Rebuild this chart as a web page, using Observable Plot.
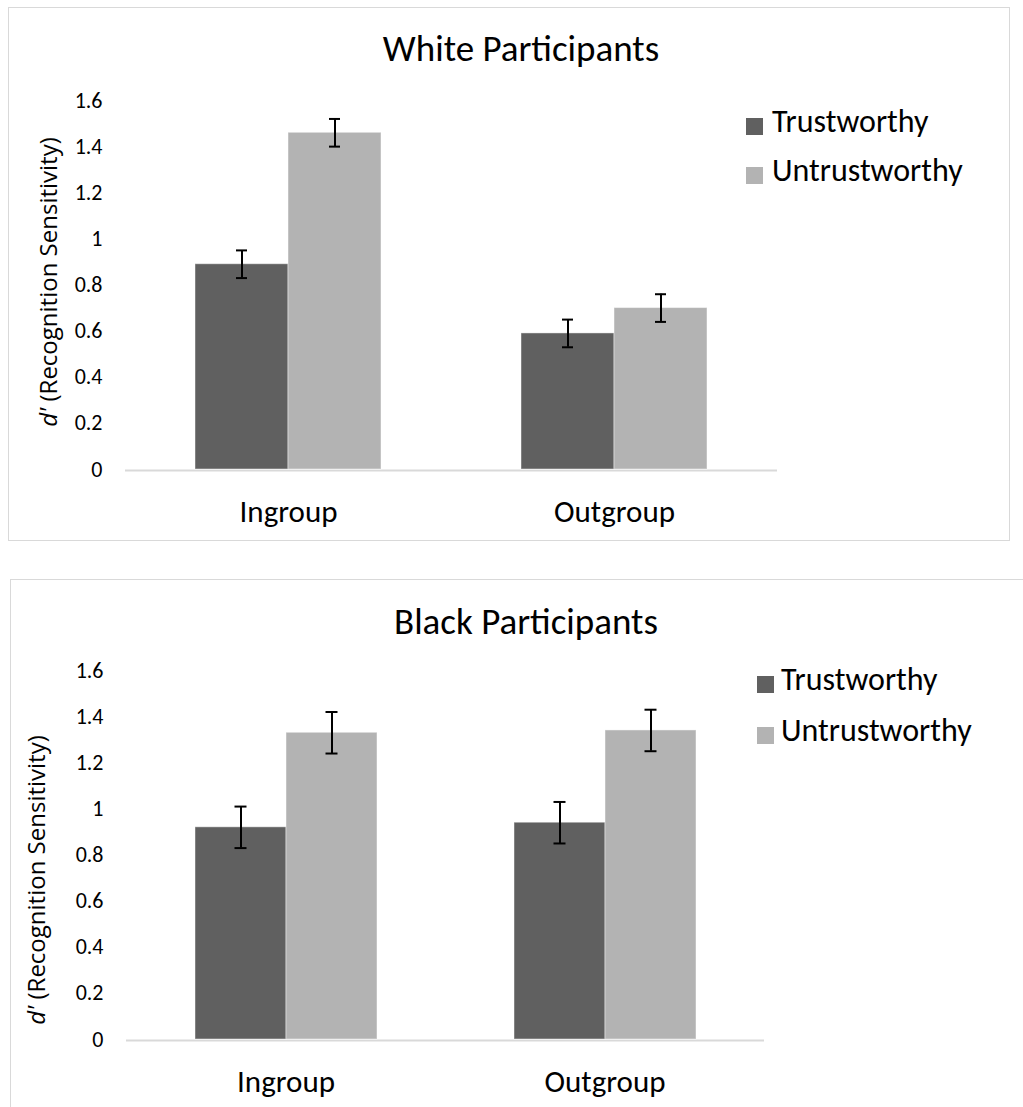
<!DOCTYPE html>
<html>
<head>
<meta charset="utf-8">
<script src="https://cdn.jsdelivr.net/npm/d3@7"></script>
<script src="https://cdn.jsdelivr.net/npm/@observablehq/plot@0.6"></script>
<style>
  html, body { margin: 0; padding: 0; background: #fff; }
  #page { position: relative; width: 1023px; height: 1107px; overflow: hidden; background: #fff; }
  .panel { position: absolute; box-sizing: border-box; border: 1px solid #d9d9d9; }
  .title { position: absolute; width: 600px; text-align: center; font-family: Carlito, Lato, sans-serif; font-size: 37px; line-height: 37px; color: #000; white-space: nowrap; }
  .chart { position: absolute; }
  .leg-sw { position: absolute; width: 17px; height: 17px; }
  .leg-tx { position: absolute; font-family: Carlito, Lato, sans-serif; font-size: 32px; line-height: 32px; color: #000; white-space: nowrap; }
  .ylab { position: absolute; transform: translate(-50%, -50%) rotate(-90deg); font-family: "Open Sans", sans-serif; font-size: 24px; line-height: 24px; white-space: nowrap; color: #000; }
</style>
</head>
<body>
<div id="page"></div>
<script>
// ---- data ----
const groups = ["Ingroup", "Outgroup"];
const conditions = ["Trustworthy", "Untrustworthy"];
// order: Ingroup-Trustworthy, Ingroup-Untrustworthy, Outgroup-Trustworthy, Outgroup-Untrustworthy
const whiteMeans = [0.89, 1.46, 0.59, 0.70];
const whiteErrors = [0.06, 0.06, 0.06, 0.06];
const blackMeans = [0.92, 1.33, 0.94, 1.34];
const blackErrors = [0.09, 0.09, 0.09, 0.09];
const yTicks = [0, 0.2, 0.4, 0.6, 0.8, 1, 1.2, 1.4, 1.6];
const yTickLabels = ["0", "0.2", "0.4", "0.6", "0.8", "1", "1.2", "1.4", "1.6"];
const panelTitles = ["White Participants", "Black Participants"];
const colors = ["#606060", "#b3b3b3"];

const page = document.getElementById("page");

function rows(means, errors) {
  const out = [];
  groups.forEach((g, gi) => conditions.forEach((c, ci) => {
    const k = gi * conditions.length + ci;
    out.push({group: g, condition: c, value: means[k], err: errors[k]});
  }));
  return out;
}

function makeChart(data, cfg) {
  return Plot.plot({
    width: cfg.width,
    height: cfg.height,
    marginLeft: cfg.ml, marginRight: cfg.mr, marginTop: cfg.mt, marginBottom: cfg.mb,
    style: {fontFamily: "Carlito, Lato, sans-serif", background: "transparent", color: "#000", overflow: "visible"},
    fx: {domain: groups, padding: 0, label: null},
    x: {domain: conditions, paddingInner: 0, paddingOuter: cfg.po, axis: null},
    y: {domain: [0, 1.6]},
    color: {domain: conditions, range: colors},
    marks: [
      Plot.ruleY([0], {stroke: "#d9d9d9", strokeWidth: 2, dy: 1}),
      Plot.barY(data, {fx: "group", x: "condition", y: "value", fill: "condition", stroke: "#ffffff", strokeOpacity: 0.45, strokeWidth: 1}),
      Plot.ruleX(data, {fx: "group", x: "condition", y1: d => d.value - d.err, y2: d => d.value + d.err, stroke: "#000", strokeWidth: 2}),
      Plot.tickY(data, {fx: "group", x: "condition", y: d => d.value + d.err, stroke: "#000", strokeWidth: 2, insetLeft: cfg.cap, insetRight: cfg.cap}),
      Plot.tickY(data, {fx: "group", x: "condition", y: d => d.value - d.err, stroke: "#000", strokeWidth: 2, insetLeft: cfg.cap, insetRight: cfg.cap}),
      Plot.axisY({ticks: yTicks, tickFormat: d => yTickLabels[yTicks.indexOf(d)], tickSize: 0, tickPadding: 23, fontSize: 22, label: null, fill: "#000"}),
      Plot.axisFx({anchor: "bottom", tickSize: 0, tickPadding: 30, fontSize: 31, label: null, fill: "#000"})
    ]
  });
}

function addPanel(cfg, data, title) {
  const box = document.createElement("div");
  box.className = "panel";
  Object.assign(box.style, {left: cfg.boxL + "px", top: cfg.boxT + "px", width: cfg.boxW + "px", height: cfg.boxH + "px"});
  page.appendChild(box);

  const t = document.createElement("div");
  t.className = "title";
  t.textContent = title;
  Object.assign(t.style, {left: (cfg.titleCx - 300) + "px", top: cfg.titleT + "px"});
  page.appendChild(t);

  const chart = makeChart(data, cfg);
  chart.classList.add("chart");
  Object.assign(chart.style, {left: cfg.svgL + "px", top: cfg.svgT + "px"});
  page.appendChild(chart);

  conditions.forEach((c, i) => {
    const sw = document.createElement("div");
    sw.className = "leg-sw";
    Object.assign(sw.style, {left: cfg.legL + "px", top: (cfg.legT + i * cfg.legStep) + "px", background: colors[i]});
    page.appendChild(sw);
    const tx = document.createElement("div");
    tx.className = "leg-tx";
    tx.textContent = c;
    Object.assign(tx.style, {left: cfg.legTxL + "px", top: (cfg.legT + i * cfg.legStep - 12) + "px"});
    page.appendChild(tx);
  });

  const yl = document.createElement("div");
  yl.className = "ylab";
  yl.innerHTML = "<i>d'</i> (Recognition Sensitivity)";
  Object.assign(yl.style, {left: cfg.ylCx + "px", top: cfg.ylCy + "px"});
  page.appendChild(yl);
}

addPanel({
  boxL: 8, boxT: 7, boxW: 1002, boxH: 534,
  titleCx: 521, titleT: 30,
  svgL: 9, svgT: 78, width: 1000, height: 462, ml: 115, mr: 232, mt: 22, mb: 71,
  po: 0.7367, cap: 41,
  legL: 746, legT: 118, legStep: 49, legTxL: 772,
  ylCx: 48, ylCy: 282
}, rows(whiteMeans, whiteErrors), panelTitles[0]);

addPanel({
  boxL: 10, boxT: 579, boxW: 1040, boxH: 600,
  titleCx: 526, titleT: 603,
  svgL: 11, svgT: 650, width: 1020, height: 457, ml: 115, mr: 267, mt: 20, mb: 68,
  po: 0.7527, cap: 39.5,
  legL: 757, legT: 676, legStep: 51, legTxL: 781,
  ylCx: 36, ylCy: 880
}, rows(blackMeans, blackErrors), panelTitles[1]);
</script>
</body>
</html>
